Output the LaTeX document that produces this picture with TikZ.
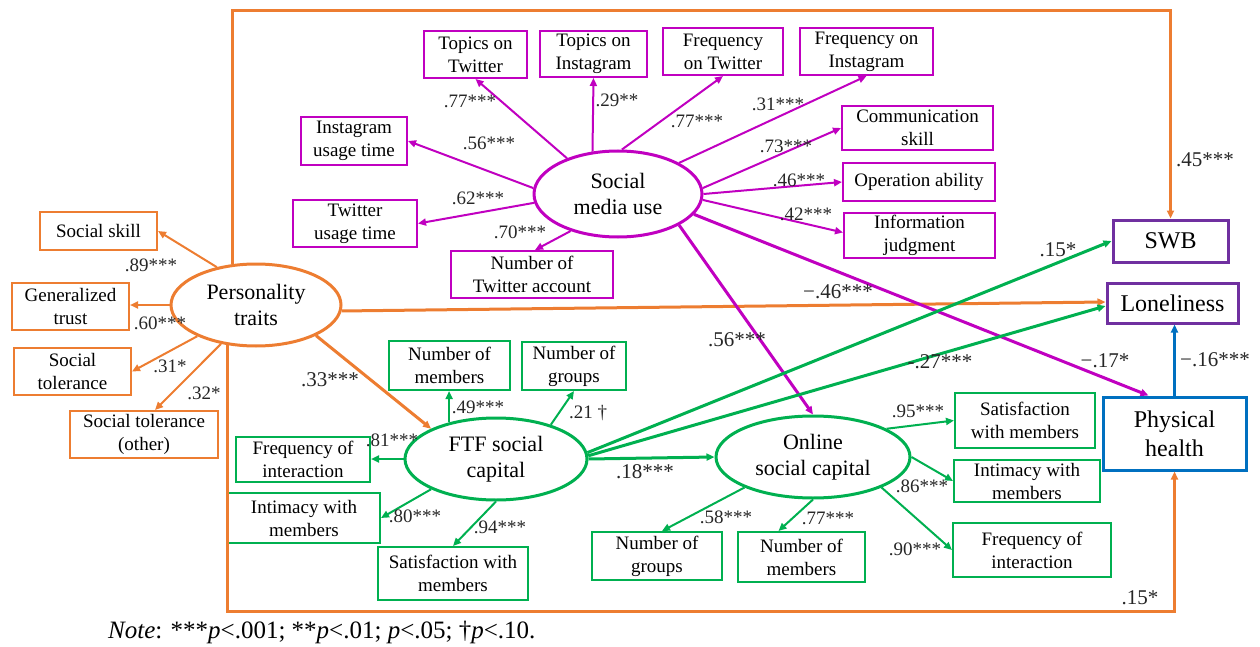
\documentclass[tikz,border=0pt]{standalone}
\usepackage{fontspec}
\setmainfont{Liberation Serif}
\usetikzlibrary{arrows.meta,shapes.geometric}
\definecolor{orng}{HTML}{ED7D31}
\definecolor{mag}{HTML}{C000C0}
\definecolor{grn}{HTML}{00B050}
\definecolor{purp}{HTML}{7030A0}
\definecolor{blu}{HTML}{0070C0}
\tikzset{
  bx/.style={draw, line width=2pt, align=center, inner sep=0pt, font=\fontsize{19}{23}\selectfont},
  obox/.style={bx, draw=orng},
  mbox/.style={bx, draw=mag},
  gbox/.style={bx, draw=grn},
  pbox/.style={draw=purp, line width=3pt, align=center, inner sep=0pt, font=\fontsize{24}{28}\selectfont},
  hbox/.style={draw=blu, line width=3pt, align=center, inner sep=0pt, font=\fontsize{24}{29}\selectfont},
  ell/.style={ellipse, line width=3pt, align=center, inner sep=0pt, font=\fontsize{22}{26}\selectfont},
  tip/.style={-{Triangle[length=8pt,width=7pt]}},
  oarr/.style={tip, draw=orng, fill=orng, line width=2pt},
  oarrB/.style={tip, draw=orng, line width=3pt},
  marr/.style={tip, draw=mag, line width=2pt},
  marrB/.style={tip, draw=mag, line width=3pt},
  garr/.style={tip, draw=grn, line width=2pt},
  garrB/.style={tip, draw=grn, line width=3pt},
  barr/.style={tip, draw=blu, line width=3pt},
  lbl/.style={inner sep=0pt, text=black!85, font=\fontsize{19}{19}\selectfont},
  blbl/.style={inner sep=0pt, text=black!85, font=\fontsize{21}{21}\selectfont},
}
\begin{document}
\begin{tikzpicture}[x=1pt,y=-1pt]
\useasboundingbox (0,0) rectangle (1260,647);
\coordinate (topy) at (0,11);
\coordinate (boty) at (0,611);
% latent ellipses
\node[ell, draw=orng, minimum width=170, minimum height=82] (pers) at (256,305) {Personality\\traits};
\node[ell, draw=mag, minimum width=168, minimum height=86] (smu) at (618,194) {Social\\media use};
\node[ell, draw=grn, minimum width=182, minimum height=82] (ftf) at (496,459) {FTF social\\capital};
\node[ell, draw=grn, minimum width=194, minimum height=82] (osc) at (813,457) {Online\\social capital};
% outcomes
\node[pbox, minimum width=115, minimum height=42] (swb) at (1170.5,241) {SWB};
\node[pbox, minimum width=131, minimum height=40] (lon) at (1172.5,303) {Loneliness};
\node[hbox, minimum width=143, minimum height=73] (ph) at (1174.5,433.5) {Physical\\health};
% orange indicators
\node[obox, minimum width=117, minimum height=38] (ss) at (98.5,231) {Social skill};
\node[obox, minimum width=117, minimum height=47] (gt) at (70.5,306.5) {Generalized\\trust};
\node[obox, minimum width=117, minimum height=47] (st) at (72.5,371.5) {Social\\tolerance};
\node[obox, minimum width=148, minimum height=47] (sto) at (144,434.5) {Social tolerance\\(other)};
% magenta indicators
\node[mbox, minimum width=103, minimum height=47] (tt) at (475.5,54.5) {Topics on\\Twitter};
\node[mbox, minimum width=107, minimum height=46] (ti) at (593.5,54) {Topics on\\Instagram};
\node[mbox, minimum width=120, minimum height=47] (ft) at (723,51.5) {Frequency\\on Twitter};
\node[mbox, minimum width=133, minimum height=47] (fi) at (866.5,51.5) {Frequency on\\Instagram};
\node[mbox, minimum width=151, minimum height=44] (cs) at (917.5,128) {Communication\\skill};
\node[mbox, minimum width=152, minimum height=38] (oa) at (919,182) {Operation ability};
\node[mbox, minimum width=151, minimum height=45] (ij) at (919.5,235.5) {Information\\judgment};
\node[mbox, minimum width=106, minimum height=48] (iu) at (354,141) {Instagram\\usage time};
\node[mbox, minimum width=124, minimum height=47] (tu) at (355,223.5) {Twitter\\usage time};
\node[mbox, minimum width=162, minimum height=47] (na) at (532,274.5) {Number of\\Twitter account};
% green indicators
\node[gbox, minimum width=121, minimum height=49] (fm) at (449.5,365.5) {Number of\\members};
\node[gbox, minimum width=104, minimum height=48] (fg) at (574,366) {Number of\\groups};
\node[gbox, minimum width=134, minimum height=45] (ff) at (303,459.5) {Frequency of\\interaction};
\node[gbox, minimum width=152, minimum height=50] (fin) at (304,518) {Intimacy with\\members};
\node[gbox, minimum width=150, minimum height=53] (fs) at (453,573.5) {Satisfaction with\\members};
\node[gbox, minimum width=130, minimum height=48] (og) at (657,556) {Number of\\groups};
\node[gbox, minimum width=127, minimum height=50] (om) at (801.5,557) {Number of\\members};
\node[gbox, minimum width=140, minimum height=55] (os) at (1025,420.5) {Satisfaction\\with members};
\node[gbox, minimum width=146, minimum height=42] (oi) at (1027,481) {Intimacy with\\members};
\node[gbox, minimum width=158, minimum height=54] (of) at (1032,550) {Frequency of\\interaction};
% orange connectors
\draw[oarr] (pers.136) -- (ss.east);
\draw[oarr] (pers.west) -- (pers.west -| gt.east);
\draw[oarr] (pers.208) -- (st.east);
\draw[oarr] (pers.228) -- ([xshift=11pt]sto.north);
\draw[oarrB] (pers.-4) -- ([yshift=1pt]lon.west);
\draw[oarrB] (pers.-27) -- (ftf.155);
\draw[oarrB] (pers.120) |- (topy -| swb.north) -- (swb.north);
\draw[oarrB] (pers.235) |- (boty -| ph.south) -- (ph.south);
% magenta connectors
\draw[marr] (smu.145) -- (tt.south);
\draw[marr] (smu.121) -- (ti.south);
\draw[marr] (smu.85) -- (ft.south);
\draw[marr] (smu.27) -- (fi.south);
\draw[marr] (smu.4) -- (cs.west);
\draw[marr] (smu.0) -- (oa.west);
\draw[marr] (smu.-4) -- ([yshift=3pt]ij.west);
\draw[marr] (smu.176) -- (iu.east);
\draw[marr] (smu.186) -- (tu.east);
\draw[marr] (smu.218) -- ([xshift=3pt]na.north);
\draw[marrB] (smu.-15) -- ([xshift=-26pt]ph.north);
\draw[marrB] (smu.-27) -- (osc.north);
% green connectors
\draw[garrB] (ftf.east) -- (osc.west);
\draw[garrB] (ftf.4) -- (swb.west);
\draw[garrB] (ftf.2) -- ([yshift=-3pt]lon.west);
\draw[garr] (ftf.142) -- (ftf.142 |- fm.south);
\draw[garr] (ftf.32) -- (fg.south);
\draw[garr] (ftf.west) -- (ftf.west -| ff.east);
\draw[garr] (ftf.205) -- (fin.east);
\draw[garr] (ftf.south) -- (fs.north);
\draw[garr] (osc.204) -- ([xshift=5pt]og.north);
\draw[garr] (osc.south) -- ([xshift=-23pt]om.north);
\draw[garr] (osc.21) -- (os.west);
\draw[garr] (osc.east) -- (oi.west);
\draw[garr] (osc.-24) -- (of.west);
% blue connector
\draw[barr] (ph.north) -- (ph.north |- lon.south);
% loadings
\node[lbl] (l1) at (151,265) {.89***};
\node[lbl] (l2) at (160,323) {.60***};
\node[lbl] (l3) at (170,366) {.31*};
\node[lbl] (l4) at (204,393) {.32*};
\node[lbl] (l5) at (470,101) {.77***};
\node[lbl] (l6) at (617,100) {.29**};
\node[lbl] (l7) at (697,121) {.77***};
\node[lbl] (l8) at (778,104) {.31***};
\node[lbl] (l9) at (786,146) {.73***};
\node[lbl] (l10) at (799,180) {.46***};
\node[lbl] (l11) at (806,214) {.42***};
\node[lbl] (l12) at (489,143) {.56***};
\node[lbl] (l13) at (478,198) {.62***};
\node[lbl] (l14) at (520,232) {.70***};
\node[lbl] (l15) at (478,407) {.49***};
\node[lbl] (l16) at (588,413) {.21 †};
\node[lbl] (l17) at (392,440) {.81***};
\node[lbl] (l18) at (415,516) {.80***};
\node[lbl] (l19) at (500,527) {.94***};
\node[lbl] (l20) at (726,517) {.58***};
\node[lbl] (l21) at (828,518) {.77***};
\node[lbl] (l22) at (918,411) {.95***};
\node[lbl] (l23) at (922,486) {.86***};
\node[lbl] (l24) at (915,549) {.90***};
% structural paths
\node[blbl] (p1) at (330,380) {.33***};
\node[blbl] (p2) at (1205,160) {.45***};
\node[blbl] (p3) at (1140,598) {.15*};
\node[blbl] (p4) at (838,292) {−.46***};
\node[blbl] (p5) at (1105,361) {−.17*};
\node[blbl] (p6) at (1215,360) {−.16***};
\node[blbl] (p7) at (940,362) {-.27***};
\node[blbl] (p8) at (1058,250) {.15*};
\node[blbl] (p9) at (737,340) {.56***};
\node[blbl] (p10) at (645,472) {.18***};
% note
\node[anchor=west, inner sep=0pt, font=\fontsize{25}{25}\selectfont] (note) at (108,632) {\textit{Note}: ***\textit{p}<.001; **\textit{p}<.01; \textit{p}<.05; †\textit{p}<.10.};
\end{tikzpicture}
\end{document}
